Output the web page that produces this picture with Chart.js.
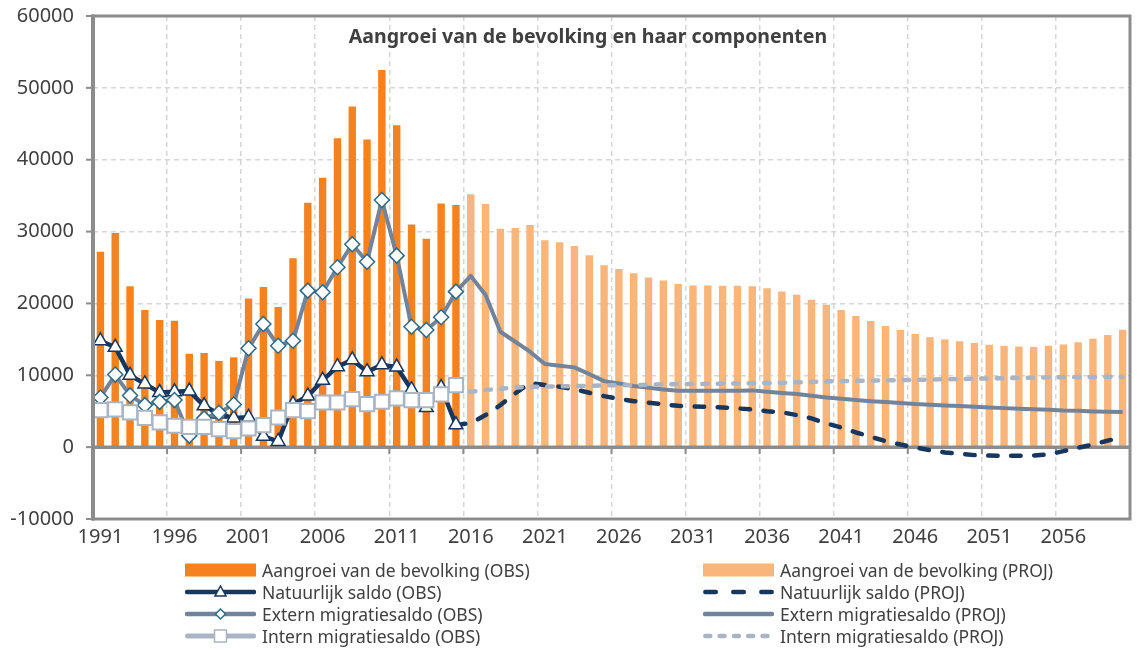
<!DOCTYPE html>
<html>
<head>
<meta charset="utf-8">
<script src="https://cdn.jsdelivr.net/npm/chart.js@4.4.1/dist/chart.umd.min.js"></script>
<style>
  html, body { margin: 0; padding: 0; background: #ffffff; }
  #wrap { position: relative; width: 1142px; height: 650px; overflow: hidden; font-family: "Noto Sans", sans-serif; color: #404040; }
  #c { position: absolute; left: 0; top: 0; }
  #title { position: absolute; left: 588px; top: 26px; transform: translateX(-50%); white-space: nowrap;
           font-weight: bold; font-size: 19.5px; line-height: 20px; color: #404040; }
  .lg { position: absolute; display: flex; align-items: center; height: 22px; font-size: 17.5px; line-height: 22px; white-space: nowrap; color: #404040; }
  .lg svg { flex: none; margin-right: 6px; }
</style>
</head>
<body>
<div id="wrap">
  <canvas id="c" width="1142" height="650"></canvas>
  <div id="title">Aangroei van de bevolking en haar componenten</div>
  <div id="legend"></div>
</div>
<script>
// ---------------- DATA ----------------
const firstYear = 1991;
const lastYear = 2060;
const tickYears = ['1991','1996','2001','2006','2011','2016','2021','2026','2031','2036','2041','2046','2051','2056'];

// Observed 1991-2015
const growthObs  = [27200, 29800, 22400, 19100, 17700, 17600, 13000, 13100, 12000, 12500,
                    20700, 22300, 19500, 26300, 34000, 37500, 43000, 47400, 42800, 52500,
                    44800, 31000, 29000, 33900, 33700];
const naturalObs = [14800, 13900, 10000, 8800, 7600, 7700, 7800, 5750, 4600, 4050,
                    4150, 1500, 800, 6000, 7100, 9300, 11200, 12150, 10500, 11450,
                    11150, 8000, 5500, 8300, 3100];
const externObs  = [6900, 10100, 7200, 5850, 6300, 6550, 1600, 4000, 4780, 5940,
                    13750, 17130, 14110, 14810, 21780, 21550, 25030, 28230, 25800, 34400,
                    26650, 16760, 16300, 18070, 21640];
const internObs  = [5150, 5250, 4830, 4080, 3440, 2970, 2830, 2830, 2510, 2230,
                    2600, 3060, 4130, 5150, 5010, 6220, 6220, 6690, 5990, 6310,
                    6780, 6550, 6550, 7340, 8640];

// Projected bars 2016-2060
const growthProj = [35200, 33850, 30400, 30500, 30900, 28800, 28500, 28000, 26700, 25300,
                    24800, 24200, 23600, 23200, 22700, 22500, 22500, 22450, 22450, 22400,
                    22100, 21650, 21200, 20500, 19800, 19100, 18250, 17550, 16850, 16300,
                    15750, 15300, 15000, 14750, 14500, 14250, 14100, 14000, 13950, 14100,
                    14300, 14600, 15100, 15600, 16350];
// Projected lines 2015-2060 (start at last observed year)
const naturalProj = [3100, 3350, 4460, 5850, 7500, 8900, 8650, 8400, 8050, 7570, 7100,
                     6730, 6400, 6170, 5950, 5760, 5670, 5620, 5530, 5390, 5250,
                     5000, 4850, 4460, 4000, 3300, 2740, 2040, 1440, 840, 370,
                     -50, -420, -740, -930, -1110, -1160, -1210, -1210, -1160, -1020,
                     -560, -90, 370, 900, 1400];
const externProj  = [21640, 23820, 21170, 16060, 14670, 13280, 11560, 11330, 11100, 10170, 9190,
                     8870, 8500, 8260, 8030, 7840, 7840, 7860, 7860, 7860, 7900,
                     7700, 7520, 7380, 7150, 6920, 6730, 6550, 6400, 6270, 6130,
                     5990, 5900, 5800, 5710, 5620, 5530, 5430, 5340, 5290, 5200,
                     5100, 5060, 4970, 4920, 4880];
const internProj  = [8640, 7700, 7940, 8120, 8310, 8400, 8420, 8450, 8500, 8540, 8590,
                     8610, 8640, 8690, 8730, 8760, 8780, 8810, 8840, 8870, 8890,
                     8920, 8960, 9020, 9080, 9150, 9180, 9220, 9260, 9300, 9330,
                     9370, 9410, 9450, 9480, 9520, 9560, 9600, 9640, 9670, 9710,
                     9730, 9750, 9770, 9790, 9800];

const seriesLabels = [
  'Aangroei van de bevolking (OBS)', 'Aangroei van de bevolking (PROJ)',
  'Natuurlijk saldo (OBS)', 'Natuurlijk saldo (PROJ)',
  'Extern migratiesaldo (OBS)', 'Extern migratiesaldo (PROJ)',
  'Intern migratiesaldo (OBS)', 'Intern migratiesaldo (PROJ)'
];

// ---------------- BUILD ----------------
const years = [];
for (let y = firstYear; y <= lastYear; y++) years.push(String(y));
const N = years.length;
const padEnd = a => a.concat(new Array(N - a.length).fill(null));
const padStart = a => new Array(N - a.length).fill(null).concat(a);

const C = {
  obsBar: '#F5821F', projBar: '#FAB57B',
  natural: '#17375E', extern: '#72839A', externMarker: '#2F6884', intern: '#A9B5C4',
  grid: '#d6d6d6', frame: '#8c8c8c', text: '#404040'
};

const datasets = [
  { type: 'bar', label: seriesLabels[0], data: padEnd(growthObs), backgroundColor: C.obsBar,
    barPercentage: 0.5, categoryPercentage: 1, grouped: false, order: 10 },
  { type: 'bar', label: seriesLabels[1], data: padStart(growthProj), backgroundColor: C.projBar,
    barPercentage: 0.5, categoryPercentage: 1, grouped: false, order: 9 },
  { type: 'line', label: seriesLabels[3], data: padStart(naturalProj), borderColor: C.natural,
    borderWidth: 4.5, borderDash: [9.5, 13.5], borderCapStyle: 'round', pointRadius: 0, order: 5 },
  { type: 'line', label: seriesLabels[5], data: padStart(externProj), borderColor: C.extern,
    borderWidth: 4, pointRadius: 0, order: 6 },
  { type: 'line', label: seriesLabels[7], data: padStart(internProj), borderColor: C.intern,
    borderWidth: 4.5, borderDash: [5.5, 10], borderCapStyle: 'round', pointRadius: 0, order: 4 },
  { type: 'line', label: seriesLabels[2], data: padEnd(naturalObs), borderColor: C.natural,
    borderWidth: 4.5, pointStyle: 'triangle', pointRadius: 8, pointBorderWidth: 1.5,
    pointBorderColor: C.natural, pointBackgroundColor: '#ffffff', order: 3 },
  { type: 'line', label: seriesLabels[4], data: padEnd(externObs), borderColor: C.extern,
    borderWidth: 4, pointStyle: 'rectRot', pointRadius: 7.5, pointBorderWidth: 1.5,
    pointBorderColor: C.externMarker, pointBackgroundColor: '#ffffff', order: 2 },
  { type: 'line', label: seriesLabels[6], data: padEnd(internObs), borderColor: C.intern,
    borderWidth: 5, pointStyle: 'rect', pointRadius: 10, pointBorderWidth: 2,
    pointBorderColor: C.intern, pointBackgroundColor: '#ffffff', order: 1 }
];
datasets.forEach(d => { if (d.type === 'line') { d.tension = 0; d.fill = false; d.spanGaps = false; d.borderJoinStyle = 'round'; d.pointHoverRadius = d.pointRadius; } });

const framePlugin = {
  id: 'frame',
  afterDatasetDraw(chart, args) {
    if (args.index !== 1) return; // after projected bars: zero line + ticks
    const { ctx, chartArea: a, scales: { x, y } } = chart;
    const y0 = y.getPixelForValue(0);
    ctx.save();
    ctx.strokeStyle = C.frame;
    ctx.lineWidth = 2;
    for (let i = 5; i < N; i += 5) {
      const px = (x.getPixelForValue(i - 1) + x.getPixelForValue(i)) / 2;
      ctx.beginPath(); ctx.moveTo(px, y0); ctx.lineTo(px, y0 + 7); ctx.stroke();
    }
    ctx.lineWidth = 3.5;
    ctx.beginPath(); ctx.moveTo(a.left, y0); ctx.lineTo(a.right, y0); ctx.stroke();
    ctx.restore();
  },
  afterDatasetsDraw(chart) {
    const { ctx, chartArea: a, scales: { y } } = chart;
    ctx.save();
    ctx.strokeStyle = C.frame;
    // y tick marks outside the left axis
    ctx.lineWidth = 2;
    y.ticks.forEach(t => {
      const py = y.getPixelForValue(t.value);
      ctx.beginPath(); ctx.moveTo(a.left - 7, py); ctx.lineTo(a.left, py); ctx.stroke();
    });
    ctx.lineWidth = 3;
    ctx.strokeRect(a.left, a.top, a.right - a.left, a.bottom - a.top);
    ctx.lineWidth = 4;
    ctx.beginPath(); ctx.moveTo(a.left, a.top - 1.5); ctx.lineTo(a.left, a.bottom + 1.5); ctx.stroke();
    ctx.restore();
  }
};

const tickFont = { family: 'Noto Sans', size: 20 };

const chart = new Chart(document.getElementById('c'), {
  data: { labels: years, datasets },
  options: {
    responsive: false, animation: false, devicePixelRatio: 1,
    layout: { padding: { top: 16, right: 2, left: 0, bottom: 0 } },
    plugins: { legend: { display: false }, title: { display: false }, tooltip: { enabled: false } },
    events: [],
    scales: {
      x: {
        type: 'category', offset: true,
        grid: { offset: true, drawTicks: false, lineWidth: 1.5,
                color: c => (c.index > 0 && c.index < N && c.index % 5 === 0) ? C.grid : 'rgba(0,0,0,0)' },
        border: { display: false, dash: [5, 4] },
        ticks: { autoSkip: false, maxRotation: 0, minRotation: 0, padding: 6, color: C.text, font: tickFont,
                 callback: function (v, i) { const l = years[i]; return tickYears.includes(l) ? l : ''; } },
        afterFit: s => { s.height = 131; }
      },
      y: {
        min: -10000, max: 60000,
        grid: { color: C.grid, lineWidth: 1.5, tickLength: 19, tickColor: 'rgba(0,0,0,0)', tickWidth: 0, tickBorderDash: [] },
        border: { display: false, dash: [5, 4] },
        ticks: { stepSize: 10000, padding: 0, color: C.text, font: tickFont,
                 callback: v => String(v) },
        afterFit: s => { s.width = 93; }
      }
    }
  },
  plugins: [framePlugin]
});

// ---------------- LEGEND (HTML, built from datasets) ----------------
function markerSVG(kind) {
  const W = 71, H = 14, m = H / 2, cx = W / 2;
  let s = `<svg width="${W}" height="${H}" viewBox="0 0 ${W} ${H}">`;
  switch (kind) {
    case 'barObs': s += `<rect x="0" y="0.5" width="${W}" height="13" fill="${C.obsBar}"/>`; break;
    case 'barProj': s += `<rect x="0" y="0.5" width="${W}" height="13" fill="${C.projBar}"/>`; break;
    case 'natObs':
      s += `<line x1="2" y1="${m}" x2="${W-2}" y2="${m}" stroke="${C.natural}" stroke-width="4.5" stroke-linecap="round"/>`;
      s += `<polygon points="${cx},${m-6} ${cx+5.5},${m+4} ${cx-5.5},${m+4}" fill="#fff" stroke="${C.natural}" stroke-width="1.5"/>`; break;
    case 'natProj':
      s += `<line x1="2.3" y1="${m}" x2="${W-2.3}" y2="${m}" stroke="${C.natural}" stroke-width="4.5" stroke-linecap="round" stroke-dasharray="10.5 17.5"/>`; break;
    case 'extObs':
      s += `<line x1="2" y1="${m}" x2="${W-2}" y2="${m}" stroke="${C.extern}" stroke-width="4.5" stroke-linecap="round"/>`;
      s += `<polygon points="${cx},${m-5} ${cx+5},${m} ${cx},${m+5} ${cx-5},${m}" fill="#fff" stroke="${C.externMarker}" stroke-width="1.5"/>`; break;
    case 'extProj':
      s += `<line x1="2" y1="${m}" x2="${W-2}" y2="${m}" stroke="${C.extern}" stroke-width="4.5" stroke-linecap="round"/>`; break;
    case 'intObs':
      s += `<line x1="2.5" y1="${m}" x2="${W-2.5}" y2="${m}" stroke="${C.intern}" stroke-width="5" stroke-linecap="round"/>`;
      s += `<rect x="${cx-6}" y="${m-6}" width="12" height="12" fill="#fff" stroke="${C.intern}" stroke-width="1.5"/>`; break;
    case 'intProj':
      s += `<line x1="2.3" y1="${m}" x2="${W-2.3}" y2="${m}" stroke="${C.intern}" stroke-width="4.5" stroke-linecap="round" stroke-dasharray="5 9.3"/>`; break;
  }
  return s + '</svg>';
}
const legendLayout = [
  { label: seriesLabels[0], kind: 'barObs',  left: 185, top: 558.5 },
  { label: seriesLabels[2], kind: 'natObs',  left: 185, top: 580.5 },
  { label: seriesLabels[4], kind: 'extObs',  left: 185, top: 602.5 },
  { label: seriesLabels[6], kind: 'intObs',  left: 185, top: 624.5 },
  { label: seriesLabels[1], kind: 'barProj', left: 703, top: 558.5 },
  { label: seriesLabels[3], kind: 'natProj', left: 703, top: 580.5 },
  { label: seriesLabels[5], kind: 'extProj', left: 703, top: 602.5 },
  { label: seriesLabels[7], kind: 'intProj', left: 703, top: 624.5 }
];
const lg = document.getElementById('legend');
legendLayout.forEach(it => {
  const d = document.createElement('div');
  d.className = 'lg';
  d.style.left = it.left + 'px';
  d.style.top = it.top + 'px';
  d.innerHTML = markerSVG(it.kind) + '<span></span>';
  d.querySelector('span').textContent = it.label;
  lg.appendChild(d);
});
</script>
</body>
</html>
